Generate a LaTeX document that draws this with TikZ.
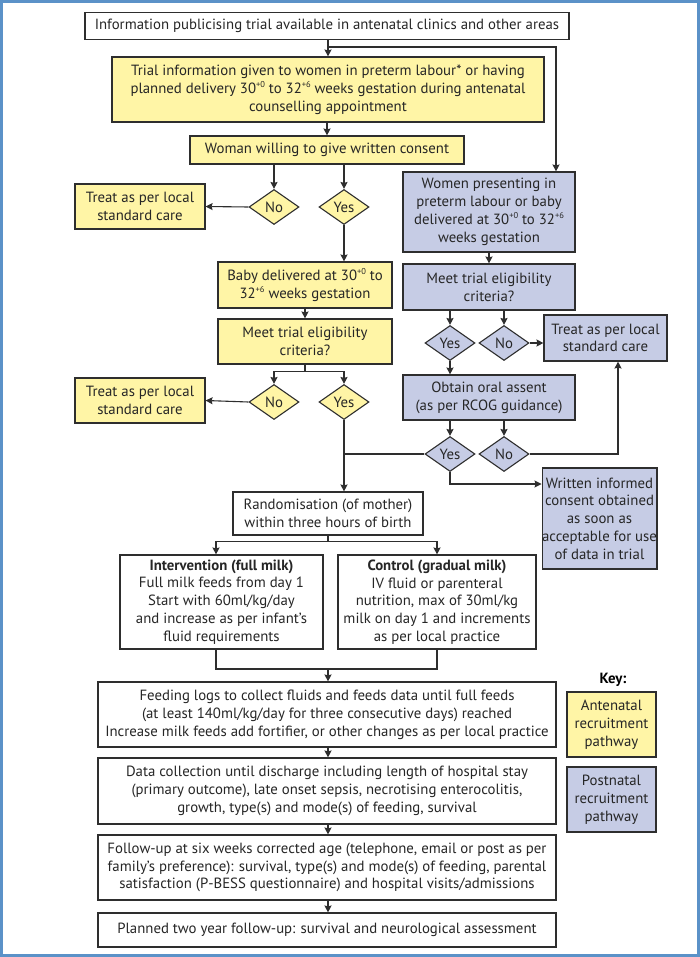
\documentclass[tikz,border=0pt]{standalone}
\usepackage{fontspec}
\setmainfont{PT Sans}
\usetikzlibrary{arrows.meta,shapes.geometric}
\definecolor{ylw}{HTML}{FFF5A6}
\definecolor{blu}{HTML}{C6CCE5}
\definecolor{framec}{HTML}{5B92C8}
\definecolor{ink}{HTML}{2E2E2E}
\newcommand{\sps}[1]{\raisebox{0.42em}{\fontsize{8.5}{8.5}\selectfont #1}}
\begin{document}
\begin{tikzpicture}[x=1pt,y=-1pt,
  font=\fontsize{14.8}{17.8}\selectfont,
  box/.style={draw=ink, line width=1.1pt, rectangle, inner sep=0pt, align=center, text=black!85},
  ybox/.style={box, fill=ylw},
  bbox/.style={box, fill=blu},
  wbox/.style={box, fill=white},
  dia/.style={draw=ink, line width=1.1pt, diamond, minimum width=50pt, minimum height=35pt, inner sep=0pt, text=black!85},
  arr/.style={draw=ink, line width=1.1pt, -{Stealth[length=7pt,width=7pt,inset=1pt]}},
  ln/.style={draw=ink, line width=1.1pt},
]
\path[use as bounding box] (0,0) rectangle (700,957);
\draw[framec, line width=2.5pt] (1.5,1.5) rectangle (698.5,955.5);

% left / centre column
\node[wbox, minimum width=484pt, minimum height=27pt] (top) at (327,26) {Information publicising trial available in antenatal clinics and other areas};
\node[ybox, minimum width=432pt, minimum height=65pt] (y1) at (328,89.5) {Trial information given to women in preterm labour* or having\\planned delivery 30\sps{+0} to 32\sps{+6} weeks gestation during antenatal\\counselling appointment};
\node[ybox, minimum width=274pt, minimum height=28pt] (cons) at (327,150) {Woman willing to give written consent};
\node[dia, fill=ylw] (no1) at (274,207) {No};
\node[dia, fill=ylw] (yes1) at (344,207) {Yes};
\node[ybox, minimum width=130pt, minimum height=45pt] (t1) at (140,206.5) {Treat as per local\\standard care};
\node[ybox, minimum width=174pt, minimum height=46pt] (baby) at (305,285) {Baby delivered at 30\sps{+0} to\\32\sps{+6} weeks gestation};
\node[ybox, minimum width=174pt, minimum height=45pt] (m1) at (305,341.5) {Meet trial eligibility\\criteria?};
\node[dia, fill=ylw] (no2) at (274,402) {No};
\node[dia, fill=ylw] (yes2) at (344,402) {Yes};
\node[ybox, minimum width=130pt, minimum height=45pt] (t2) at (140,400.5) {Treat as per local\\standard care};

% right column
\node[bbox, minimum width=172pt, minimum height=80pt] (b1) at (489,212) {Women presenting in\\preterm labour or baby\\delivered at 30\sps{+0} to 32\sps{+6}\\weeks gestation};
\node[bbox, minimum width=172pt, minimum height=46pt] (bm) at (489,287) {Meet trial eligibility\\criteria?};
\node[dia, fill=blu] (yes3) at (450,343) {Yes};
\node[dia, fill=blu] (no3) at (504,343) {No};
\node[bbox, minimum width=123pt, minimum height=46pt] (tb) at (605.5,338) {Treat as per local\\standard care};
\node[bbox, minimum width=172pt, minimum height=45pt] (ob) at (489,397.5) {Obtain oral assent\\(as per RCOG guidance)};
\node[dia, fill=blu] (yes4) at (450,454) {Yes};
\node[dia, fill=blu] (no4) at (504,454) {No};
\node[bbox, minimum width=114pt, minimum height=101pt] (wr) at (599.5,518.5) {Written informed\\consent obtained\\as soon as\\acceptable for use\\of data in trial};

% lower part
\node[wbox, minimum width=190pt, minimum height=43pt] (rand) at (328,513.5) {Randomisation (of mother)\\within three hours of birth};
\node[wbox, minimum width=203pt, minimum height=94pt] (iv) at (221.5,602) {\textbf{Intervention (full milk)}\\Full milk feeds from day 1\\Start with 60ml/kg/day\\and increase as per infant’s\\fluid requirements};
\node[wbox, minimum width=198pt, minimum height=94pt] (ct) at (437,602) {\textbf{Control (gradual milk)}\\IV fluid or parenteral\\nutrition, max of 30ml/kg\\milk on day 1 and increments\\as per local practice};
\node[wbox, minimum width=458pt, minimum height=65pt] (fd) at (327,714.5) {Feeding logs to collect fluids and feeds data until full feeds\\(at least 140ml/kg/day for three consecutive days) reached\\Increase milk feeds add fortifier, or other changes as per local practice};
\node[wbox, minimum width=458pt, minimum height=66pt] (dc) at (327,791) {Data collection until discharge including length of hospital stay\\(primary outcome), late onset sepsis, necrotising enterocolitis,\\growth, type(s) and mode(s) of feeding, survival};
\node[wbox, minimum width=458pt, minimum height=65pt] (fu) at (327,867.5) {Follow-up at six weeks corrected age (telephone, email or post as per\\family’s preference): survival, type(s) and mode(s) of feeding, parental\\satisfaction (P-BESS questionnaire) and hospital visits/admissions};
\node[wbox, minimum width=458pt, minimum height=34pt] (pl) at (327,930) {Planned two year follow-up: survival and neurological assessment};

% key
\node[inner sep=0pt, font=\fontsize{14.8}{17.8}\selectfont\bfseries] (key) at (613,680) {Key:};
\node[ybox, minimum width=89pt, minimum height=65pt] (ka) at (611.5,724.5) {Antenatal\\recruitment\\pathway};
\node[bbox, minimum width=89pt, minimum height=65pt] (kp) at (611.5,799.5) {Postnatal\\recruitment\\pathway};

% helper coordinates
\coordinate (r1) at (556,47);
\coordinate (x618) at (618,0);
\coordinate (y484) at (0,484);
\coordinate (xi) at (216,0);
\coordinate (xc) at (437,0);
\coordinate (mid) at (328,669);

% connectors
\draw[arr] (top.south -| y1.north) -- (y1.north);
\draw[arr] (top.south |- r1) -- (r1) -- (r1 |- b1.north);
\draw[arr] (y1.south -| cons.north) -- (cons.north);
\draw[arr] (cons.south -| no1) -- (no1.north);
\draw[arr] (cons.south -| yes1) -- (yes1.north);
\draw[arr] (no1.west) -- (t1.east);
\draw[arr] (yes1.south) -- (yes1.south |- baby.north);
\draw[arr] (baby.south) -- (m1.north);
\draw[arr] (m1.south) -- ++(0,7) -| (no2.north);
\draw[arr] (m1.south) -- ++(0,7) -| (yes2.north);
\draw[arr] (no2.west) -- (t2.east);
\draw[arr] (yes2.south) -- (yes2.south |- rand.north);
\draw[ln] (yes4.west) -- (yes2.south |- yes4.west);

\draw[arr] (b1.south) -- (bm.north);
\draw[arr] (bm.south -| yes3) -- (yes3.north);
\draw[arr] (bm.south -| no3) -- (no3.north);
\draw[arr] (no3.east) -- (no3.east -| tb.west);
\draw[arr] (yes3.south) -- (yes3.south |- ob.north);
\draw[arr] (ob.south -| yes4) -- (yes4.north);
\draw[arr] (ob.south -| no4) -- (no4.north);
\draw[arr] (no4.east) -| (x618 |- tb.south);
\draw[arr] (yes4.south) |- (wr.west |- y484);

\draw[arr] (rand.south) -- ++(0,6) -| (xi |- iv.north);
\draw[arr] (rand.south) -- ++(0,6) -| (xc |- ct.north);
\draw[ln] (xi |- iv.south) -- (xi |- mid) -- (xc |- mid) -- (xc |- ct.south);
\draw[arr] (mid) -- (mid |- fd.north);
\draw[arr] (fd.south -| mid) -- (mid |- dc.north);
\draw[arr] (dc.south -| mid) -- (mid |- fu.north);
\draw[arr] (fu.south -| mid) -- (mid |- pl.north);
\end{tikzpicture}
\end{document}
